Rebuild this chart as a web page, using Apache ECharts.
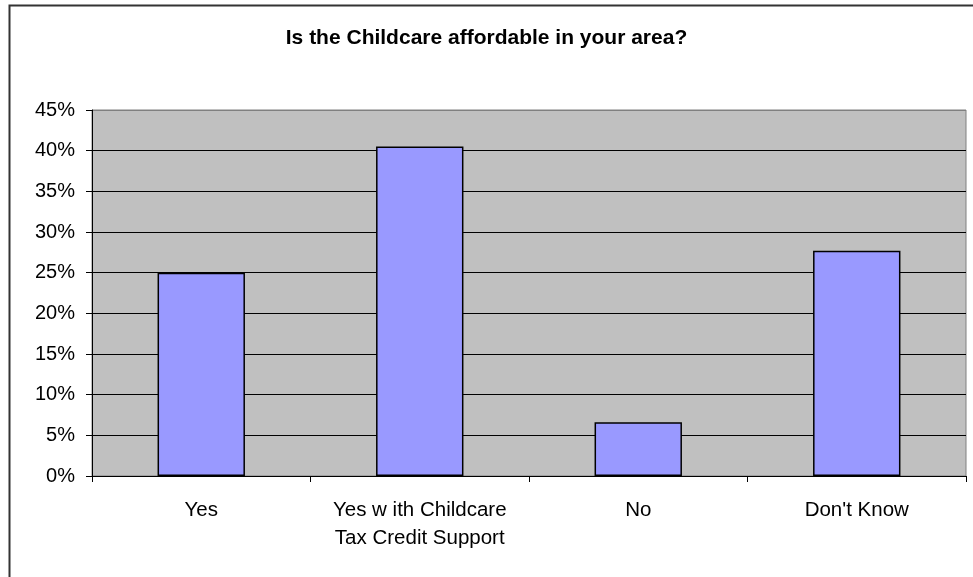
<!DOCTYPE html>
<html>
<head>
<meta charset="utf-8">
<script src="https://cdn.jsdelivr.net/npm/echarts@6/dist/echarts.min.js"></script>
<style>html,body{margin:0;padding:0;background:#fff;}#c{width:973px;height:577px;}</style>
</head>
<body>
<div id="c"></div>
<script>
const categories = ["Yes", "Yes w ith Childcare\nTax Credit Support", "No", "Don't Know"];
const values = [25, 40.5, 6.6, 27.7];
const yTicks = [0, 5, 10, 15, 20, 25, 30, 35, 40, 45];
const titleText = "Is the Childcare affordable in your area?";

const chart = echarts.init(document.getElementById('c'), null, {renderer: 'canvas'});
const font = '"Liberation Sans", Arial, sans-serif';
const splitColors = yTicks.map((t, i) => i === yTicks.length - 1 ? '#808080' : '#000000');
chart.setOption({
  animation: false,
  backgroundColor: '#ffffff',
  graphic: [{
    type: 'rect', left: 7, top: 3, z: 100, silent: true,
    shape: {width: 1000, height: 620},
    style: {fill: 'none', stroke: '#333333', lineWidth: 2}
  }],
  title: {
    text: titleText, left: 'center', top: 23,
    textStyle: {fontFamily: font, fontWeight: 'bold', fontSize: 21, color: '#000'}
  },
  grid: {left: 92, right: 7, top: 110, bottom: 101, show: true, backgroundColor: '#C0C0C0', borderColor: '#808080', borderWidth: 1},
  xAxis: {
    type: 'category', data: categories,
    axisLine: {lineStyle: {color: '#000', width: 1}},
    axisTick: {show: true, interval: 0, length: 6, lineStyle: {color: '#000'}},
    axisLabel: {interval: 0, hideOverlap: false, fontFamily: font, fontSize: 20.5, color: '#000', margin: 20, lineHeight: 28}
  },
  yAxis: {
    type: 'value', min: 0, max: 45, interval: 5,
    axisLine: {show: true, lineStyle: {color: '#000', width: 1}},
    axisTick: {show: true, length: 6, lineStyle: {color: '#000'}},
    axisLabel: {fontFamily: font, fontSize: 20, color: '#000', margin: 17, formatter: '{value}%'},
    splitLine: {show: true, lineStyle: {color: splitColors, width: 1}}
  },
  series: [{
    type: 'bar', data: values, barWidth: '40%',
    itemStyle: {color: '#9999FF', borderColor: '#000', borderWidth: 1.5}
  }]
});
</script>
</body>
</html>
